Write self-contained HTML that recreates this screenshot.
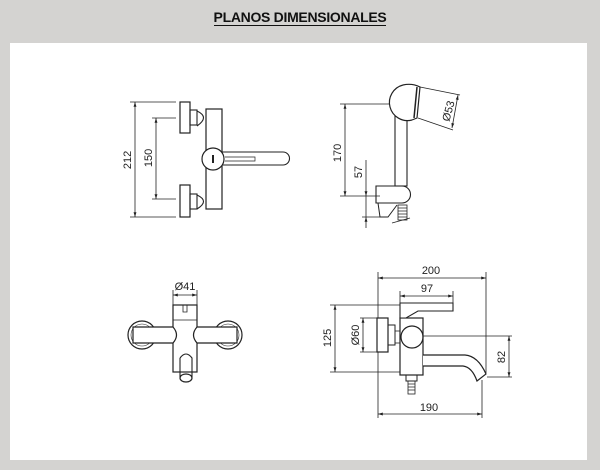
<!DOCTYPE html>
<html><head><meta charset="utf-8"><style>
html,body{margin:0;padding:0;background:#d4d3d1;}
body{width:600px;height:470px;position:relative;overflow:hidden;font-family:"Liberation Sans",sans-serif;}
.t{position:absolute;left:0;width:600px;top:9px;text-align:center;font-weight:bold;font-size:14px;color:#111;}
.t span{border-bottom:1.5px solid #111;padding-bottom:0px;letter-spacing:-0.3px;}
.p{position:absolute;left:10px;top:43px;width:577px;height:417px;background:#fff;}
svg{position:absolute;left:0;top:0;}
text{font-family:"Liberation Sans",sans-serif;font-size:11px;fill:#222;}
</style></head><body>
<div class="t"><span>PLANOS DIMENSIONALES</span></div>
<div class="p"></div>
<svg width="600" height="470" viewBox="0 0 600 470">
<defs><marker id="a" viewBox="0 0 10 10" refX="10" refY="5" markerWidth="6" markerHeight="6" orient="auto-start-reverse"><path d="M0,2 L10,5 L0,8 z" fill="#222"/></marker></defs>
<g stroke="#222" stroke-width="0.8" fill="none">
<!-- view 1 -->
<line x1="130" y1="102" x2="176" y2="102"/><line x1="130" y1="217" x2="176" y2="217"/>
<line x1="135" y1="102" x2="135" y2="217" marker-start="url(#a)" marker-end="url(#a)"/>
<line x1="152" y1="118" x2="176" y2="118"/><line x1="152" y1="199" x2="176" y2="199"/>
<line x1="156" y1="118" x2="156" y2="199" marker-start="url(#a)" marker-end="url(#a)"/>
<rect x="180" y="102" width="10" height="31" stroke-width="1.2"/>
<rect x="180" y="185" width="10" height="32" stroke-width="1.2"/>
<rect x="190" y="110" width="7" height="15" stroke-width="1.1"/>
<rect x="190" y="194" width="7" height="15" stroke-width="1.1"/>
<path d="M197,111 Q210,117 197,126" stroke-width="1.1"/>
<path d="M197,195 Q210,201 197,209" stroke-width="1.1"/>
<rect x="206" y="109" width="16" height="100" stroke-width="1.2"/>
<circle cx="213" cy="159" r="11" fill="#fff" stroke-width="1.2"/>
<line x1="213" y1="155" x2="213" y2="163" stroke-width="2"/>
<path d="M222,152 L283,152 A6.5,6.5 0 0 1 283,165 L222,165" stroke-width="1.1"/>
<path d="M225,157 L255,157 L255,161 L225,161" stroke-width="0.7"/>
<!-- view 2 -->
<line x1="340" y1="104" x2="397" y2="104"/><line x1="340" y1="196" x2="380" y2="196"/>
<line x1="345" y1="104" x2="345" y2="196" marker-start="url(#a)" marker-end="url(#a)"/>
<line x1="362" y1="217" x2="380" y2="217"/>
<line x1="366" y1="160" x2="366" y2="196" marker-end="url(#a)"/>
<line x1="366" y1="217" x2="366" y2="196"/>
<line x1="366" y1="228" x2="366" y2="217" marker-end="url(#a)"/>
<rect x="395" y="112" width="12" height="74" stroke-width="1.1"/>
<path d="M403,85 A18,18 0 0 0 412,120" fill="#fff" stroke-width="1.2"/>
<path d="M403,85 Q412,83 420,87 L417,118 L412,120" stroke-width="1.2"/>
<line x1="417" y1="87" x2="414" y2="118" stroke-width="1.5"/>
<line x1="420" y1="87" x2="460" y2="95"/><line x1="418" y1="118" x2="453" y2="130"/>
<line x1="458" y1="95" x2="452" y2="128" marker-start="url(#a)" marker-end="url(#a)"/>
<path d="M376,186 L402,186 A8.5,8.5 0 0 1 402,203 L376,203 Z" stroke-width="1.1"/>
<path d="M378,203 L380,217 L388,217 L397,205" stroke-width="1"/>
<rect x="398" y="205" width="9" height="15" stroke-width="0.8"/>
<path d="M398,208 H407 M398,211 H407 M398,214 H407 M398,217 H407" stroke-width="0.7"/>
<line x1="392" y1="223" x2="410" y2="218"/>
<!-- view 3 -->
<line x1="173" y1="290" x2="173" y2="305"/><line x1="197" y1="290" x2="197" y2="305"/>
<line x1="173" y1="295" x2="197" y2="295" marker-start="url(#a)" marker-end="url(#a)"/>
<circle cx="142" cy="335" r="14" stroke-width="1.2"/>
<circle cx="142" cy="335" r="11" stroke-width="0.6"/>
<circle cx="228" cy="335" r="14" stroke-width="1.2"/>
<circle cx="228" cy="335" r="11" stroke-width="0.6"/>
<rect x="173" y="305" width="24" height="67" fill="#fff" stroke-width="1.2"/>
<line x1="173" y1="320" x2="197" y2="320"/>
<path d="M183,305 V312 H187 V305" stroke-width="0.8"/>
<path d="M133,327 L173,327 Q180,335 173,343 L133,343 Z" fill="#fff" stroke-width="1.2"/>
<path d="M237,327 L197,327 Q190,335 197,343 L237,343 Z" fill="#fff" stroke-width="1.2"/>
<path d="M180,358 Q186,350 192,358 L192,377" stroke-width="1.1"/>
<path d="M180,358 L180,377" stroke-width="1.1"/>
<ellipse cx="186" cy="378" rx="6" ry="4" stroke-width="1.2"/>
<!-- view 4 -->
<line x1="378" y1="272" x2="378" y2="418"/><line x1="486" y1="272" x2="486" y2="373"/>
<line x1="378" y1="278" x2="486" y2="278" marker-start="url(#a)" marker-end="url(#a)"/>
<line x1="400" y1="291" x2="400" y2="303"/><line x1="453" y1="291" x2="453" y2="303"/>
<line x1="400" y1="296" x2="453" y2="296" marker-start="url(#a)" marker-end="url(#a)"/>
<line x1="330" y1="305" x2="400" y2="305"/><line x1="330" y1="372" x2="400" y2="372"/>
<line x1="335" y1="305" x2="335" y2="372" marker-start="url(#a)" marker-end="url(#a)"/>
<line x1="360" y1="318" x2="377" y2="318"/><line x1="360" y1="352" x2="377" y2="352"/>
<line x1="363" y1="318" x2="363" y2="352" marker-start="url(#a)" marker-end="url(#a)"/>
<rect x="377" y="318" width="11" height="34" fill="#fff" stroke-width="1.2"/>
<rect x="388" y="325" width="7" height="20" stroke-width="1"/>
<line x1="395" y1="331" x2="400" y2="331"/><line x1="395" y1="343" x2="400" y2="343"/>
<rect x="400" y="318" width="23" height="57" stroke-width="1.2"/>
<path d="M400,303 L453,303 L453,311 L418,311 L406,318 L400,318 Z" fill="#fff" stroke-width="1.1"/>
<circle cx="412" cy="337" r="11" stroke-width="1.2"/>
<line x1="423" y1="336" x2="512" y2="336"/><line x1="487" y1="377" x2="512" y2="377"/>
<line x1="509" y1="336" x2="509" y2="377" marker-start="url(#a)" marker-end="url(#a)"/>
<path d="M423,355 L465,355 Q478,356 486,374 L477,381 Q472,367 463,366 L423,366" fill="#fff" stroke-width="1.2"/>
<rect x="406" y="375" width="11" height="6" stroke-width="1"/>
<rect x="408" y="381" width="7" height="13" stroke-width="0.8"/>
<path d="M408,384 H415 M408,387 H415 M408,390 H415" stroke-width="0.7"/>
<line x1="482" y1="380" x2="482" y2="418"/>
<line x1="378" y1="414" x2="482" y2="414" marker-start="url(#a)" marker-end="url(#a)"/>
</g>
<text x="431" y="274" text-anchor="middle">200</text>
<text x="427" y="292" text-anchor="middle">97</text>
<text x="429" y="411" text-anchor="middle">190</text>
<text x="185" y="290" text-anchor="middle">Ø41</text>
<text transform="translate(131,160) rotate(-90)" text-anchor="middle">212</text>
<text transform="translate(152,158) rotate(-90)" text-anchor="middle">150</text>
<text transform="translate(341,153) rotate(-90)" text-anchor="middle">170</text>
<text transform="translate(362,172) rotate(-90)" text-anchor="middle">57</text>
<text transform="translate(452,112) rotate(-75)" text-anchor="middle">Ø53</text>
<text transform="translate(331,338) rotate(-90)" text-anchor="middle">125</text>
<text transform="translate(359,335) rotate(-90)" text-anchor="middle">Ø60</text>
<text transform="translate(505,357) rotate(-90)" text-anchor="middle">82</text>
</svg>
</body></html>
